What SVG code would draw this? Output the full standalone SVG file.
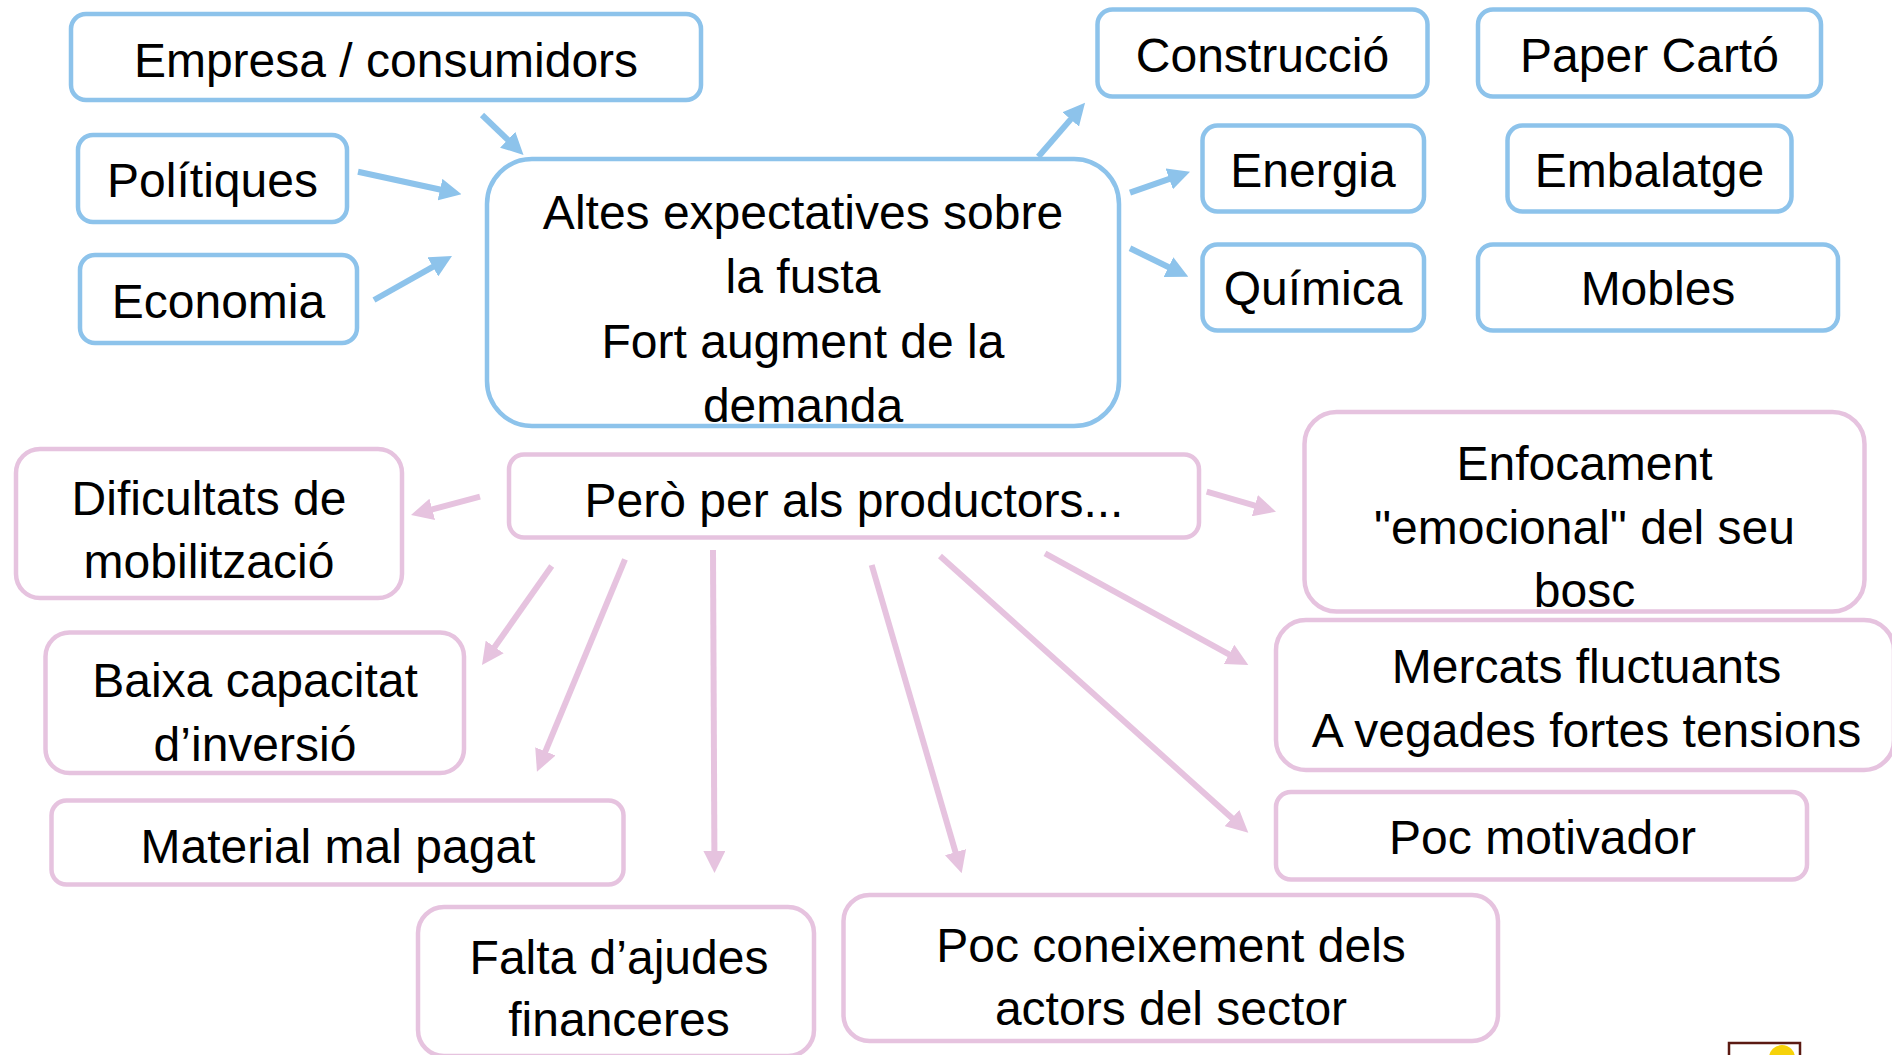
<svg xmlns="http://www.w3.org/2000/svg" width="1892" height="1055" viewBox="0 0 1892 1055">
<defs>
<style>
.bb{fill:#fff;stroke:#8dc3eb;stroke-width:4.5}
.pb{fill:#fff;stroke:#e6c3df;stroke-width:4.5}
.t{font-family:"Liberation Sans",Arial,sans-serif;font-size:48px;fill:#000;text-anchor:middle}
.bl{stroke:#8dc3eb;stroke-width:6;fill:none;marker-end:url(#ab)}
.pl{stroke:#e6c3df;stroke-width:6;fill:none;marker-end:url(#ap)}
</style>
<marker id="ab" viewBox="0 0 22 22" refX="1" refY="11" markerWidth="22" markerHeight="22" markerUnits="userSpaceOnUse" orient="auto">
<path d="M0,0 L22,11 L0,22 z" fill="#8dc3eb"/>
</marker>
<marker id="ap" viewBox="0 0 22 22" refX="1" refY="11" markerWidth="22" markerHeight="22" markerUnits="userSpaceOnUse" orient="auto">
<path d="M0,0 L22,11 L0,22 z" fill="#e6c3df"/>
</marker>
</defs>
<rect width="1892" height="1055" fill="#fff"/>

<g id="connectors">
<path class="bl" d="M482,115 L508.4,140.4"/>
<path class="bl" d="M358,171.7 L441,189.8"/>
<path class="bl" d="M374,300 L433.7,266.3"/>
<path class="bl" d="M1038.3,156.7 L1071.3,118.6"/>
<path class="bl" d="M1130,192.7 L1170.2,178.6"/>
<path class="bl" d="M1130,248.3 L1169.4,267.5"/>
<path class="pl" d="M480,496.7 L431.3,509.6"/>
<path class="pl" d="M551.7,566 L494.1,647.8"/>
<path class="pl" d="M625,559.3 L545,752.3"/>
<path class="pl" d="M713,550 L714.4,852"/>
<path class="pl" d="M871.7,565 L955.8,853.1"/>
<path class="pl" d="M940,556 L1232.7,818.7"/>
<path class="pl" d="M1045,553.3 L1229.9,654.9"/>
<path class="pl" d="M1206.7,491.7 L1255.8,505.9"/>
</g>

<g id="empresa"><rect class="bb" x="71" y="14" width="630" height="86" rx="15"/><text class="t" x="386" y="77">Empresa / consumidors</text></g>
<g id="politiques"><rect class="bb" x="78" y="135" width="269" height="87" rx="15"/><text class="t" x="212.5" y="197">Polítiques</text></g>
<g id="economia"><rect class="bb" x="80" y="255" width="277" height="88" rx="15"/><text class="t" x="218.5" y="318">Economia</text></g>
<g id="altes"><rect class="bb" x="487" y="159" width="632" height="267" rx="45"/>
<text class="t"><tspan x="803" y="229">Altes expectatives sobre</tspan><tspan x="803" y="293">la fusta</tspan><tspan x="803" y="357.5">Fort augment de la</tspan><tspan x="803" y="421.5">demanda</tspan></text></g>
<g id="construccio"><rect class="bb" x="1097.5" y="9.5" width="330" height="87" rx="15"/><text class="t" x="1262.5" y="71.5">Construcció</text></g>
<g id="paper"><rect class="bb" x="1478" y="9.5" width="343" height="87" rx="15"/><text class="t" x="1649.5" y="71.5">Paper Cartó</text></g>
<g id="energia"><rect class="bb" x="1202.5" y="125.5" width="221.5" height="86" rx="15"/><text class="t" x="1313" y="186.5">Energia</text></g>
<g id="embalatge"><rect class="bb" x="1507.5" y="125.5" width="284" height="86" rx="15"/><text class="t" x="1649.5" y="186.5">Embalatge</text></g>
<g id="quimica"><rect class="bb" x="1202.5" y="244.5" width="221.5" height="86" rx="15"/><text class="t" x="1313" y="305">Química</text></g>
<g id="mobles"><rect class="bb" x="1478" y="244.5" width="360" height="86" rx="15"/><text class="t" x="1658" y="305">Mobles</text></g>

<g id="pero"><rect class="pb" x="509" y="454.5" width="690" height="83" rx="15"/><text class="t" x="854" y="516.5">Però per als productors...</text></g>
<g id="dificultats"><rect class="pb" x="16" y="449" width="386" height="149" rx="24"/>
<text class="t"><tspan x="209" y="515">Dificultats de</tspan><tspan x="209" y="578">mobilització</tspan></text></g>
<g id="baixa"><rect class="pb" x="45.5" y="632.5" width="418.5" height="140.5" rx="24"/>
<text class="t"><tspan x="255" y="696.5">Baixa capacitat</tspan><tspan x="255" y="760.5">d’inversió</tspan></text></g>
<g id="material"><rect class="pb" x="51.5" y="800.5" width="572" height="84" rx="15"/><text class="t" x="338" y="863">Material mal pagat</text></g>
<g id="falta"><rect class="pb" x="418" y="907" width="396" height="149" rx="26"/>
<text class="t"><tspan x="619" y="974">Falta d’ajudes</tspan><tspan x="619" y="1036">financeres</tspan></text></g>
<g id="coneixement"><rect class="pb" x="843.5" y="895" width="654.5" height="146" rx="26"/>
<text class="t"><tspan x="1171" y="961.5">Poc coneixement dels</tspan><tspan x="1171" y="1025">actors del sector</tspan></text></g>
<g id="enfocament"><rect class="pb" x="1304.5" y="412" width="560" height="199.5" rx="32"/>
<text class="t"><tspan x="1584.5" y="480">Enfocament</tspan><tspan x="1584.5" y="544">"emocional" del seu</tspan><tspan x="1584.5" y="607">bosc</tspan></text></g>
<g id="mercats"><rect class="pb" x="1276" y="620" width="618" height="150" rx="30"/>
<text class="t"><tspan x="1586.5" y="683">Mercats fluctuants</tspan><tspan x="1586.5" y="747">A vegades fortes tensions</tspan></text></g>
<g id="motivador"><rect class="pb" x="1276" y="792" width="531" height="87.5" rx="15"/><text class="t" x="1542.5" y="854">Poc motivador</text></g>

<g id="logo-fragment"><rect x="1729" y="1043" width="71" height="30" fill="none" stroke="#5b1a12" stroke-width="2.5"/><circle cx="1782" cy="1058" r="13" fill="#f6d20a"/></g>
</svg>
